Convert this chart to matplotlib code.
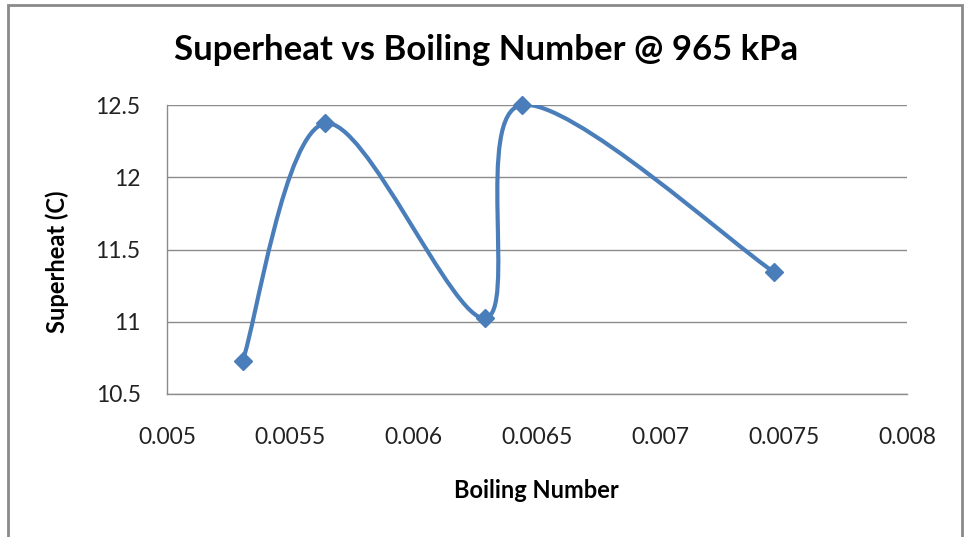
import numpy as np
import matplotlib
matplotlib.use("Agg")
import matplotlib.pyplot as plt
from matplotlib.path import Path
from matplotlib.patches import PathPatch, Rectangle

# Data
boiling_number = [0.005307, 0.005641, 0.006289, 0.006438, 0.007462]
superheat = [10.73, 12.373, 11.024, 12.50, 11.342]

x_ticks = [0.005, 0.0055, 0.006, 0.0065, 0.007, 0.0075, 0.008]
x_tick_labels = ["0.005", "0.0055", "0.006", "0.0065", "0.007", "0.0075", "0.008"]
y_ticks = [10.5, 11, 11.5, 12, 12.5]
y_tick_labels = ["10.5", "11", "11.5", "12", "12.5"]

title = "Superheat vs Boiling Number @ 965 kPa"
x_label = "Boiling Number"
y_label = "Superheat (C)"

line_color = "#4A7EBB"
grid_color = "#8C8C8C"
font = ["Lato", "DejaVu Sans"]

W, H, DPI = 966, 537, 100
fig = plt.figure(figsize=(W / DPI, H / DPI), dpi=DPI)
fig.patch.set_facecolor("white")

# Plot area in pixel coordinates
left, right, top, bottom = 167, 907, 105, 394
ax = fig.add_axes([left / W, 1 - bottom / H, (right - left) / W, (bottom - top) / H])
ax.set_xlim(x_ticks[0], x_ticks[-1])
ax.set_ylim(y_ticks[0], y_ticks[-1])

ax.set_xticks(x_ticks)
ax.set_xticklabels(x_tick_labels, fontfamily=font, fontsize=16.5, color="#222222")
ax.set_yticks(y_ticks)
ax.set_yticklabels(y_tick_labels, fontfamily=font, fontsize=16.5, color="#222222")
ax.tick_params(axis="x", length=0, pad=24)
ax.tick_params(axis="y", length=0, pad=19)

for s in ["top", "right"]:
    ax.spines[s].set_visible(False)
for s in ["left", "bottom"]:
    ax.spines[s].set_color(grid_color)
    ax.spines[s].set_linewidth(1.0)
ax.yaxis.grid(True, color=grid_color, linewidth=1.0)
ax.set_axisbelow(True)


# Smoothed line (Catmull-Rom style cubic Bezier segments)
def smooth_path(xs, ys):
    pts = np.column_stack([xs, ys])
    n = len(pts)
    verts = [pts[0]]
    codes = [Path.MOVETO]
    for i in range(n - 1):
        p0 = pts[i - 1] if i > 0 else pts[i]
        p1 = pts[i]
        p2 = pts[i + 1]
        p3 = pts[i + 2] if i + 2 < n else pts[i + 1]
        c1 = p1 + (p2 - p0) / 6.0
        c2 = p2 - (p3 - p1) / 6.0
        verts += [c1, c2, p2]
        codes += [Path.CURVE4] * 3
    return Path(verts, codes)


ax.add_patch(PathPatch(smooth_path(boiling_number, superheat), facecolor="none",
                       edgecolor=line_color, linewidth=3.0, capstyle="round",
                       joinstyle="round", zorder=3))
ax.plot(boiling_number, superheat, linestyle="none", marker="D", markersize=9,
        color=line_color, zorder=4, clip_on=False)

# Titles
fig.text(486 / W, 1 - 50 / H, title, ha="center", va="center", fontfamily=font,
         fontsize=25, fontweight="bold", color="black")
fig.text(536 / W, 1 - 490 / H, x_label, ha="center", va="center", fontfamily=font,
         fontsize=17, fontweight="bold", color="black")
fig.text(57 / W, 1 - 262 / H, y_label, ha="center", va="center", rotation=90,
         fontfamily=font, fontsize=17, fontweight="bold", color="black")

# Chart border
fig.patches.append(Rectangle((8 / W, -0.05), (962 - 8) / W, 1.05 - 5 / H,
                             transform=fig.transFigure, fill=False,
                             edgecolor="#8A8A8A", linewidth=2.0))

fig.savefig("out.png", dpi=DPI, facecolor="white")
